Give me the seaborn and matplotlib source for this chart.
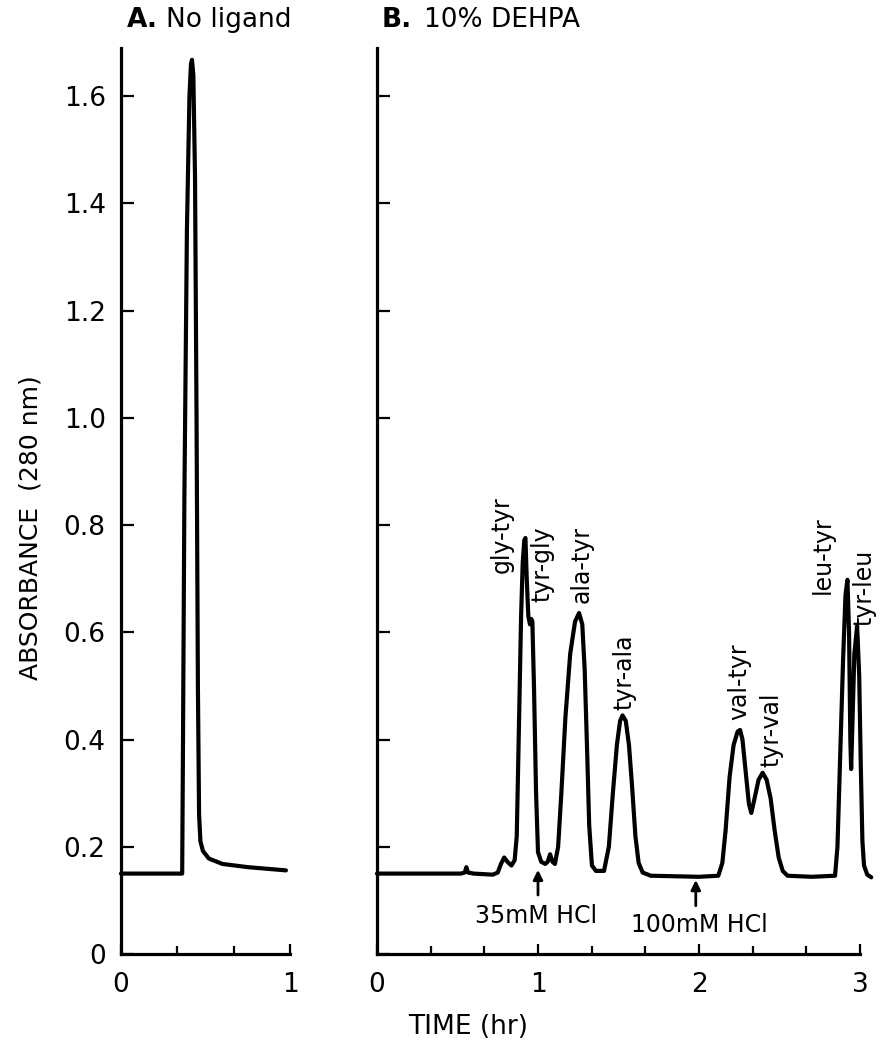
import numpy as np
import pandas as pd
import seaborn as sns
import matplotlib
matplotlib.use("Agg")
import matplotlib.pyplot as plt
from matplotlib.ticker import FixedLocator, FixedFormatter, NullFormatter

# ---------------- data ----------------
# Panel A: No ligand
time_a = [0.0, 0.362, 0.366, 0.375, 0.39, 0.405, 0.414, 0.42, 0.428, 0.438,
          0.447, 0.455, 0.462, 0.47, 0.485, 0.52, 0.6, 0.75, 0.976]
abs_a = [0.150, 0.150, 0.35, 0.85, 1.35, 1.60, 1.66, 1.668, 1.64, 1.45,
         1.00, 0.50, 0.26, 0.21, 0.192, 0.178, 0.168, 0.162, 0.156]

# Panel B: 10% DEHPA
time_b = [0.00, 0.52, 0.545, 0.555, 0.565, 0.60, 0.72, 0.75, 0.77, 0.79,
          0.81, 0.835, 0.855, 0.868, 0.880, 0.895, 0.905, 0.915, 0.922, 0.930,
          0.940, 0.950, 0.958, 0.965, 0.975, 0.988, 1.000, 1.02, 1.045, 1.06,
          1.075, 1.09, 1.105, 1.125, 1.145, 1.17, 1.20, 1.23, 1.255, 1.275,
          1.29, 1.305, 1.318, 1.335, 1.36, 1.41, 1.44, 1.465, 1.49, 1.51,
          1.525, 1.545, 1.565, 1.585, 1.605, 1.625, 1.65, 1.70, 2.00, 2.12,
          2.145, 2.165, 2.19, 2.215, 2.24, 2.255, 2.27, 2.29, 2.31, 2.325,
          2.345, 2.37, 2.395, 2.42, 2.445, 2.47, 2.495, 2.52, 2.55, 2.70,
          2.845, 2.86, 2.875, 2.895, 2.91, 2.922, 2.932, 2.940, 2.945, 2.952,
          2.965, 2.982, 2.995, 3.005, 3.015, 3.025, 3.045, 3.07]
abs_b = [0.150, 0.150, 0.152, 0.162, 0.152, 0.150, 0.148, 0.152, 0.168, 0.180,
         0.172, 0.165, 0.175, 0.22, 0.40, 0.63, 0.73, 0.772, 0.776, 0.70,
         0.63, 0.615, 0.625, 0.62, 0.50, 0.30, 0.19, 0.172, 0.168, 0.172,
         0.186, 0.172, 0.168, 0.20, 0.30, 0.44, 0.56, 0.62, 0.636, 0.615,
         0.53, 0.38, 0.24, 0.165, 0.155, 0.155, 0.20, 0.30, 0.39, 0.435,
         0.445, 0.435, 0.39, 0.31, 0.22, 0.17, 0.152, 0.146, 0.144, 0.146,
         0.17, 0.23, 0.33, 0.39, 0.415, 0.418, 0.40, 0.34, 0.28, 0.263,
         0.29, 0.325, 0.338, 0.325, 0.29, 0.23, 0.18, 0.155, 0.146, 0.144,
         0.146, 0.20, 0.35, 0.55, 0.67, 0.698, 0.60, 0.40, 0.345, 0.42,
         0.56, 0.612, 0.52, 0.35, 0.21, 0.165, 0.148, 0.143]

peak_names = ["gly-tyr", "tyr-gly", "ala-tyr", "tyr-ala",
              "val-tyr", "tyr-val", "leu-tyr", "tyr-leu"]
eluent_labels = ["35mM HCl", "100mM HCl"]
eluent_times = [1.0, 1.98]

y_ticks = [0, 0.2, 0.4, 0.6, 0.8, 1.0, 1.2, 1.4, 1.6]
y_tick_labels = ["0", "0.2", "0.4", "0.6", "0.8", "1.0", "1.2", "1.4", "1.6"]
xa_ticks = [0, 1]
xb_ticks = [0, 1, 2, 3]

# ---------------- layout ----------------
# label anchor points (x centre, y bottom) for peak names
peak_label_pos = [(0.774, 0.71), (1.025, 0.657), (1.27, 0.655), (1.537, 0.455),
                  (2.25, 0.437), (2.45, 0.349), (2.77, 0.672), (3.03, 0.612)]
arrow_tip_y = [0.157, 0.138]
arrow_tail_y = [0.110, 0.090]
eluent_text_pos = [(0.99, 0.058), (2.0, 0.041)]

sns.set_style("ticks")
plt.rcParams["font.family"] = ["DejaVu Sans"]
plt.rcParams.update({"text.color": "black", "axes.labelcolor": "black",
                     "axes.edgecolor": "black", "xtick.color": "black",
                     "ytick.color": "black"})

W, H = 888, 1050
fig = plt.figure(figsize=(W / 100, H / 100), dpi=100)
x0_px, y0_px, ytop_px = 121, 954, 48
axA = fig.add_axes([x0_px / W, 1 - y0_px / H, (290 - 121) / W, (y0_px - ytop_px) / H])
axB = fig.add_axes([377 / W, 1 - y0_px / H, (860 - 377) / W, (y0_px - ytop_px) / H])

dfa = pd.DataFrame({"time": time_a, "absorbance": abs_a})
dfb = pd.DataFrame({"time": time_b, "absorbance": abs_b})
sns.lineplot(data=dfa, x="time", y="absorbance", ax=axA, color="black",
             linewidth=3.0, estimator=None, sort=False)
sns.lineplot(data=dfb, x="time", y="absorbance", ax=axB, color="black",
             linewidth=3.0, estimator=None, sort=False)
for ax in (axA, axB):
    for ln in ax.lines:
        ln.set_clip_on(False)
        ln.set_solid_joinstyle("round")
        ln.set_solid_capstyle("round")

for ax, xmax, xt in ((axA, 1.0, xa_ticks), (axB, 3.0, xb_ticks)):
    ax.set_xlim(0, xmax)
    ax.set_ylim(0, 1.69)
    sns.despine(ax=ax, top=True, right=True)
    for s in ("left", "bottom"):
        ax.spines[s].set_linewidth(2.3)
        ax.spines[s].set_color("black")
    ax.xaxis.set_major_locator(FixedLocator(xt))
    ax.xaxis.set_major_formatter(FixedFormatter([str(v) for v in xt]))
    minors = [i / 3 for i in range(1, int(round(xmax * 3))) if i % 3 != 0]
    ax.xaxis.set_minor_locator(FixedLocator(minors))
    ax.yaxis.set_major_locator(FixedLocator(y_ticks))
    ax.tick_params(axis="x", which="major", direction="in", length=7, width=1.6,
                   labelsize=19, pad=13, colors="black")
    ax.tick_params(axis="x", which="minor", direction="in", length=6, width=1.6,
                   colors="black")
    ax.tick_params(axis="y", which="major", direction="in", length=9, width=1.6,
                   labelsize=19, pad=11, colors="black")
    ax.set_xlabel("")
    ax.set_ylabel("")
    ax.patch.set_alpha(0)

axA.yaxis.set_major_formatter(FixedFormatter(y_tick_labels))
axB.yaxis.set_major_formatter(NullFormatter())

# peak labels
for name, (px, py) in zip(peak_names, peak_label_pos):
    axB.text(px, py, name, rotation=90, ha="center", va="bottom", fontsize=17,
             color="black", clip_on=False)

# eluent arrows
for t, tip, tail, lab, (tx, ty) in zip(eluent_times, arrow_tip_y, arrow_tail_y,
                                        eluent_labels, eluent_text_pos):
    axB.annotate("", xy=(t, tip), xytext=(t, tail),
                 arrowprops=dict(arrowstyle="-|>", color="black", lw=2.0,
                                 mutation_scale=14, shrinkA=0, shrinkB=0))
    axB.text(tx, ty, lab, ha="center", va="baseline", fontsize=17, color="black")

# titles
fig.text(127 / W, 1 - 27 / H, "A.", fontsize=19, fontweight="bold", va="baseline")
fig.text(166 / W, 1 - 27 / H, "No ligand", fontsize=19, va="baseline")
fig.text(382 / W, 1 - 27 / H, "B.", fontsize=19, fontweight="bold", va="baseline")
fig.text(424 / W, 1 - 27 / H, "10% DEHPA", fontsize=19, va="baseline")

# axis labels
fig.text(31 / W, 1 - 528 / H, "ABSORBANCE  (280 nm)", rotation=90,
         ha="center", va="center", fontsize=18)
fig.text(408 / W, 1 - 1034 / H, "TIME (hr)", ha="left", va="baseline", fontsize=19)

fig.savefig("out.png", dpi=100, facecolor="white")
